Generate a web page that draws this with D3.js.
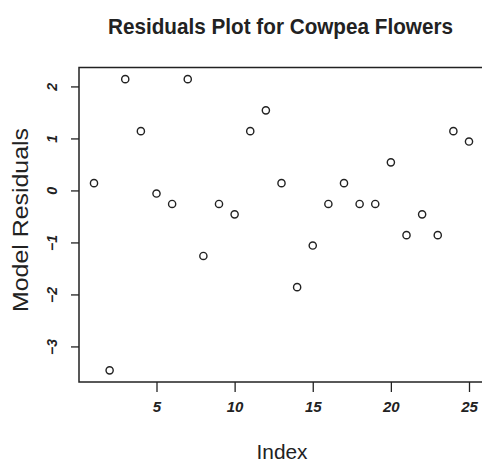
<!DOCTYPE html>
<html>
<head>
<meta charset="utf-8">
<script src="https://cdn.jsdelivr.net/npm/d3@7"></script>
<style>
  html, body { margin: 0; padding: 0; background: #fff; }
  svg { display: block; }
</style>
</head>
<body>
<svg id="chart" width="482" height="465"></svg>
<script>
// ---- data ----
const indexValues = d3.range(1, 26);
const residuals = [0.14, -3.46, 2.14, 1.14, -0.06, -0.26, 2.14, -1.26, -0.26, -0.46,
                   1.14, 1.54, 0.14, -1.86, -1.06, -0.26, 0.14, -0.26, -0.26, 0.54,
                   -0.86, -0.46, -0.86, 1.14, 0.94];
const xTicks = [5, 10, 15, 20, 25];
const yTicks = [-3, -2, -1, 0, 1, 2];
const title = "Residuals Plot for Cowpea Flowers";
const xLabel = "Index";
const yLabel = "Model Residuals";

// ---- layout ----
const plotL = 79, plotR = 484, plotT = 67.5, plotB = 382;
const ink = "#222";
const narrow = "'Liberation Sans Narrow', 'Liberation Sans', Arial, sans-serif";
const sans = "'Liberation Sans', Arial, sans-serif";

const svg = d3.select("#chart");

// R-style 4% padding on domains
const xExt = d3.extent(indexValues), yExt = d3.extent(residuals);
const xPad = (xExt[1] - xExt[0]) * 0.04, yPad = (yExt[1] - yExt[0]) * 0.04;
const x = d3.scaleLinear().domain([xExt[0] - xPad, xExt[1] + xPad]).range([plotL, plotR]);
const y = d3.scaleLinear().domain([yExt[0] - yPad, yExt[1] + yPad]).range([plotB, plotT]);

// title
svg.append("text")
  .attr("x", 280.5).attr("y", 34)
  .attr("text-anchor", "middle")
  .attr("font-family", narrow).attr("font-weight", "bold").attr("font-size", 22)
  .attr("textLength", 345).attr("lengthAdjust", "spacingAndGlyphs")
  .attr("fill", ink)
  .text(title);

// axes
const xAxis = svg.append("g").attr("transform", `translate(0,${plotB})`)
  .call(d3.axisBottom(x).tickValues(xTicks).tickSize(10).tickPadding(9).tickFormat(d3.format("d")));
xAxis.select(".domain").remove();
xAxis.selectAll(".tick line").attr("stroke", ink).attr("stroke-width", 1.3);
xAxis.selectAll(".tick text")
  .attr("font-family", narrow).attr("font-weight", "bold").attr("font-style", "italic")
  .attr("font-size", 15).attr("fill", ink);

const yAxis = svg.append("g").attr("transform", `translate(${plotL},0)`)
  .call(d3.axisLeft(y).tickValues(yTicks).tickSize(8).tickFormat(d3.format("d")));
yAxis.select(".domain").remove();
yAxis.selectAll(".tick line").attr("stroke", ink).attr("stroke-width", 1.3);
yAxis.selectAll(".tick text")
  .attr("x", null).attr("dy", null)
  .attr("text-anchor", "middle")
  .attr("transform", "translate(-22,0) rotate(-90)")
  .attr("font-family", narrow).attr("font-weight", "bold").attr("font-style", "italic")
  .attr("font-size", 14).attr("fill", ink);

// plot box
svg.append("rect")
  .attr("x", plotL).attr("y", plotT)
  .attr("width", plotR - plotL).attr("height", plotB - plotT)
  .attr("fill", "none").attr("stroke", ink).attr("stroke-width", 1.5);

// points
svg.append("g").selectAll("circle")
  .data(residuals)
  .join("circle")
  .attr("cx", (d, i) => x(indexValues[i]))
  .attr("cy", d => y(d))
  .attr("r", 3.6)
  .attr("fill", "none").attr("stroke", ink).attr("stroke-width", 1.4);

// axis labels
svg.append("text")
  .attr("x", 282).attr("y", 459)
  .attr("text-anchor", "middle")
  .attr("font-family", narrow).attr("font-size", 21)
  .attr("textLength", 51).attr("lengthAdjust", "spacingAndGlyphs")
  .attr("fill", ink)
  .text(xLabel);

svg.append("text")
  .attr("transform", "translate(28,220) rotate(-90)")
  .attr("text-anchor", "middle")
  .attr("font-family", sans).attr("font-size", 22)
  .attr("textLength", 184).attr("lengthAdjust", "spacingAndGlyphs")
  .attr("fill", ink)
  .text(yLabel);
</script>
</body>
</html>
